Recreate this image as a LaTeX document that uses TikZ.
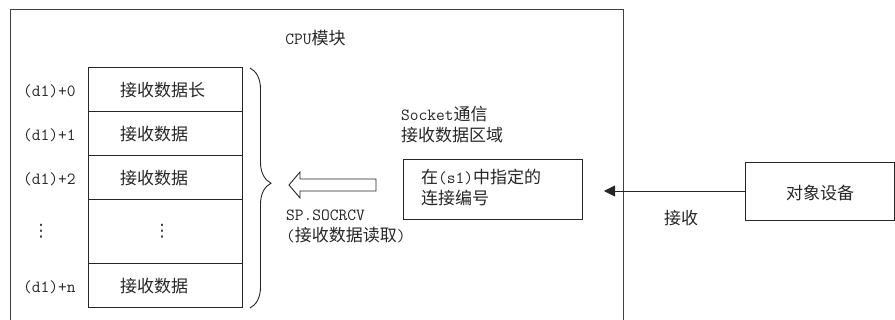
\documentclass[tikz,border=0pt]{standalone}
\usepackage{fontspec}
\newfontfamily\cjkf{Noto Sans CJK SC}
\newfontfamily\dvf{DejaVu Sans}
\newcommand\zhtxt[1]{{\fontsize{17}{21}\selectfont\cjkf #1}}
\usetikzlibrary{decorations.pathreplacing,arrows.meta}
\begin{document}
\begin{tikzpicture}[x=1pt,y=-1pt,
  txt/.style={font=\fontsize{17}{21}\selectfont\ttfamily, text=black!85, inner sep=0pt},
  cell/.style={draw=black!85, line width=0.9pt, minimum width=154pt, inner sep=0pt},
  box/.style={draw=black!85, line width=0.9pt, inner sep=0pt},
  frame/.style={draw=black!75, line width=1pt}
]
\useasboundingbox (0,0) rectangle (895,320);
% CPU module frame (open at bottom)
\coordinate (fbl) at (10,321);
\coordinate (ftl) at (10,10);
\coordinate (ftr) at (623,10);
\coordinate (fbr) at (623,321);
\draw[frame] (fbl) -- (ftl) -- (ftr) -- (fbr);
\node[txt] (cpu) at (315.5,38) {CPU\zhtxt{模块}};

% table
\node[cell, minimum height=44pt] (r0) at (165,89) {};
\node[cell, minimum height=44pt] (r1) at (165,133) {};
\node[cell, minimum height=44pt] (r2) at (165,177) {};
\node[cell, minimum height=64pt] (r3) at (165,231) {};
\node[cell, minimum height=44pt] (r4) at (165,285) {};
\node[txt, anchor=west] (t0) at (120,90) {\zhtxt{接收数据长}};
\node[txt, anchor=west] (t1) at (120,134) {\zhtxt{接收数据}};
\node[txt, anchor=west] (t2) at (120,178) {\zhtxt{接收数据}};
\node[txt] (t3) at (162,231) {\dvf ⋮};
\node[txt, anchor=west] (t4) at (120,286) {\zhtxt{接收数据}};

% labels
\node[txt, anchor=west] (l0) at (23,91) {(d1)+0};
\node[txt, anchor=west] (l1) at (23,135) {(d1)+1};
\node[txt, anchor=west] (l2) at (23,179) {(d1)+2};
\node[txt] (l3) at (41,231) {\dvf ⋮};
\node[txt, anchor=west] (l4) at (23,287) {(d1)+n};

% brace
\coordinate (bt) at (250,68);
\coordinate (bb) at (250,308);
\draw[black!85, line width=0.9pt, decoration={brace, amplitude=21pt, aspect=0.48}, decorate] (bt) -- (bb);

% hollow arrow
\coordinate (ha) at (289,185);
\draw[black!85, line width=0.9pt, line join=miter] (ha) -- (300,172) -- (300,179) -- (376,179) -- (376,191) -- (300,191) -- (300,198) -- cycle;
\node[txt, anchor=north west, align=left] (sp) at (286,210) {SP.SOCRCV\\(\zhtxt{接收数据读取})};

% socket area
\node[txt, anchor=north west, align=left] (skl) at (401,106) {Socket\zhtxt{通信}\\\zhtxt{接收数据区域}};
\node[box, minimum width=179pt, minimum height=60pt] (sock) at (492.5,189) {};
\node[txt, anchor=north west, align=left] (sockt) at (421,169) {\zhtxt{在}(s1)\zhtxt{中指定的}\\\zhtxt{连接编号}};

% target device
\node[box, minimum width=149pt, minimum height=58pt] (tgt) at (819.5,191) {};
\node[txt] (tgtt) at (820,193) {\zhtxt{对象设备}};
\coordinate (rcv) at (604,191);
\draw[black!85, line width=0.9pt, -{Triangle[length=11pt,width=11pt]}] (tgt.west) -- (rcv);
\node[txt] (rcvt) at (681,218) {\zhtxt{接收}};
\end{tikzpicture}
\end{document}
